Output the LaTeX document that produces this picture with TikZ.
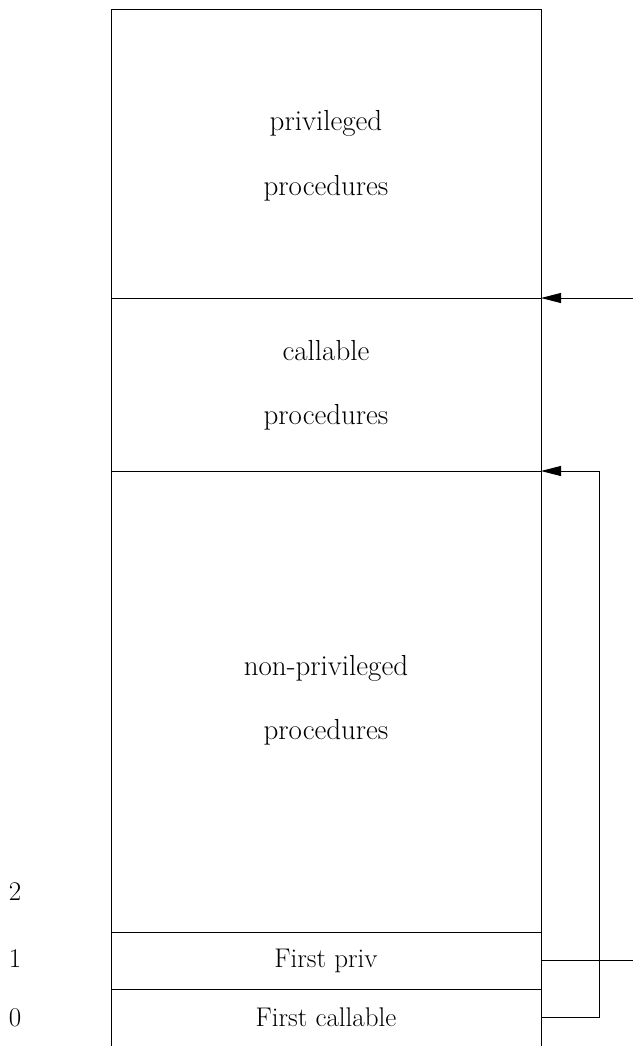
\documentclass[tikz,border=0pt]{standalone}
\usetikzlibrary{arrows.meta}
\begin{document}
\begin{tikzpicture}[x=1pt,y=-1pt,
  section/.style={rectangle,draw=none,inner sep=0pt,outer sep=0pt,minimum width=430pt},
  biglabel/.style={anchor=base,inner sep=0pt,font=\fontsize{29}{33}\selectfont},
  smalllabel/.style={anchor=base,inner sep=0pt,font=\fontsize{27}{31}\selectfont},
  edge/.style={line width=1pt,black},
  arr/.style={line width=1pt,-{Triangle[length=20pt,width=10pt]}}]
\useasboundingbox (0,0) rectangle (633,1046);
% sections
\node[section,minimum height=288pt] (priv) at (326,154) {};
\node[section,minimum height=173pt] (call) at (326,384.5) {};
\node[section,minimum height=461pt] (nonpriv) at (326,701.5) {};
\node[section,minimum height=57pt] (fpriv) at (326,960.5) {};
\node[section,minimum height=57pt] (fcall) at (326,1017.5) {};
% outline (bottom open)
\draw[edge] (fcall.south west) -- (priv.north west) -- (priv.north east) -- (fcall.south east);
\draw[edge] (priv.south west) -- (priv.south east);
\draw[edge] (call.south west) -- (call.south east);
\draw[edge] (nonpriv.south west) -- (nonpriv.south east);
\draw[edge] (fpriv.south west) -- (fpriv.south east);
% texts
\node[biglabel] (t1) at (326,131) {privileged};
\node[biglabel] (t2) at (326,195) {procedures};
\node[biglabel] (t3) at (326,360) {callable};
\node[biglabel] (t4) at (326,424) {procedures};
\node[biglabel] (t5) at (326,675) {non-privileged};
\node[biglabel] (t6) at (326,739) {procedures};
\node[smalllabel] (t7) at (326,967) {First priv};
\node[smalllabel] (t8) at (326,1026) {First callable};
\node[smalllabel] (n2) at (15,900) {2};
\node[smalllabel] (n1) at (15,967) {1};
\node[smalllabel] (n0) at (15,1026) {0};
% connectors
\coordinate (in1) at (633,298);
\coordinate (out1) at (633,960.5);
\draw[arr] (in1) -- (call.north east);
\draw[edge] (fpriv.east) -- (out1);
\draw[arr] (fcall.east) -- ++(58,0) |- (call.south east);
\end{tikzpicture}
\end{document}
